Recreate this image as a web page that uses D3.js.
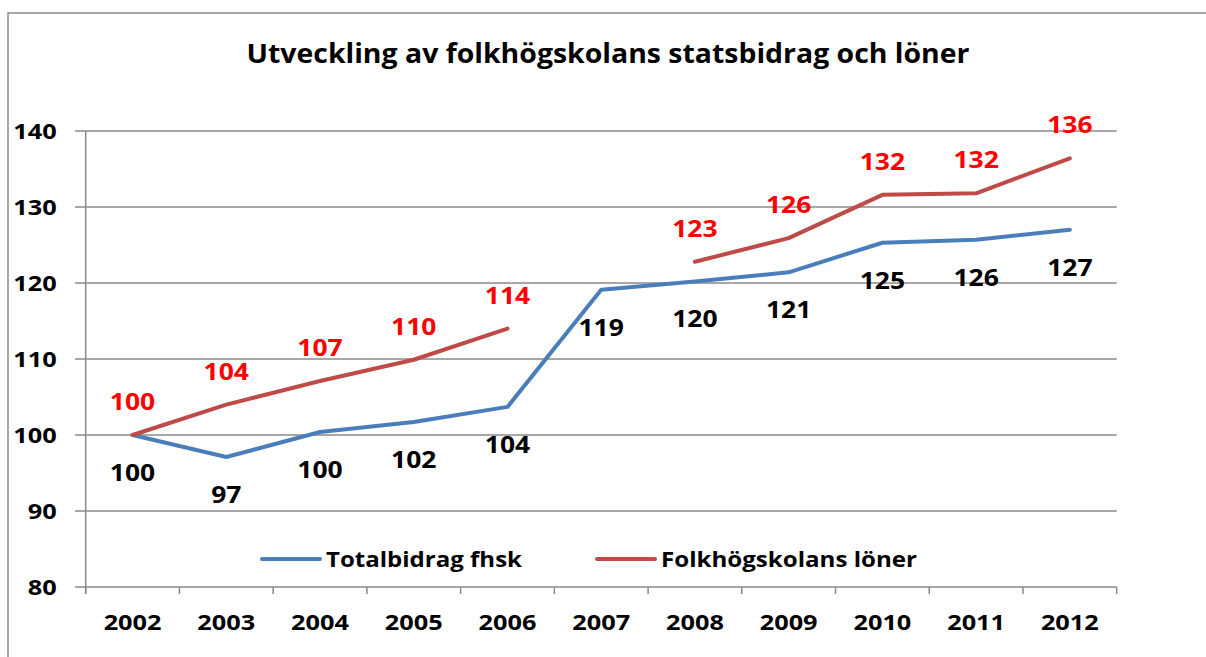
<!DOCTYPE html>
<html>
<head>
<meta charset="utf-8">
<script src="https://cdn.jsdelivr.net/npm/d3@7"></script>
<style>
  body { margin: 0; background: #fff; }
  svg { display: block; }
</style>
</head>
<body>
<script>
// years on the category axis
const years = ["2002","2003","2004","2005","2006","2007","2008","2009","2010","2011","2012"]

// Totalbidrag fhsk (index, 2002 = 100)
const totalbidrag = [100, 97.1, 100.4, 101.7, 103.7, 119.1, 120.2, 121.4, 125.3, 125.7, 127.0]
// Folkhögskolans löner (no value for 2007)
const loner = [100, 104.0, 107.1, 109.9, 114.0, null, 122.8, 125.9, 131.6, 131.8, 136.4]

const yTicks = [80, 90, 100, 110, 120, 130, 140]

const seriesNames = ["Totalbidrag fhsk", "Folkhögskolans löner"]

const width = 1206, height = 657
const grey = "#8a8a8a"
const blue = "#4a7ebb"
const red = "#be4b48"
const font = "'Open Sans', sans-serif"
const stretch = 1.15

const svg = d3.select("body").append("svg")
  .attr("width", width)
  .attr("height", height)

// outer chart border (runs off the right and bottom edge)
svg.append("rect")
  .attr("x", 8).attr("y", 13)
  .attr("width", 1250).attr("height", 700)
  .attr("fill", "#fff")
  .attr("stroke", grey)
  .attr("stroke-width", 1.5)

// stretch text horizontally like the pasted excel chart
function widen(sel, k) {
  sel.each(function() {
    const w = this.getComputedTextLength()
    d3.select(this).attr("textLength", w * k).attr("lengthAdjust", "spacingAndGlyphs")
  })
}
function fit(sel, w) {
  sel.attr("textLength", w).attr("lengthAdjust", "spacingAndGlyphs")
}

const x = d3.scaleBand().domain(years).range([85.7, 1116.7])
const y = d3.scaleLinear().domain([80, 140]).range([587, 131])
const cx = d => x(d) + x.bandwidth() / 2

// title
svg.append("text")
  .attr("x", 246.5).attr("y", 62.5)
  .style("font", `bold 26.5px ${font}`)
  .attr("fill", "#000")
  .text("Utveckling av folkhögskolans statsbidrag och löner")
  .call(fit, 723)

// gridlines
svg.append("g").attr("id", "grid")
  .selectAll("line")
  .data(yTicks)
  .enter().append("line")
    .attr("x1", 75).attr("x2", 1116.7)
    .attr("y1", d => y(d)).attr("y2", d => y(d))
    .attr("stroke", grey)
    .attr("stroke-width", 1.5)

// y axis
const yAxis = svg.append("g")
  .attr("transform", "translate(85.7,0)")
  .call(d3.axisLeft(y).tickValues(yTicks).tickSize(0).tickPadding(29).tickFormat(d3.format("d")))
yAxis.select(".domain")
  .attr("d", `M0,${y(140)}V594`)
  .attr("stroke", grey)
  .attr("stroke-width", 1.5)
yAxis.selectAll("text")
  .style("font", `bold 22px ${font}`)
  .attr("fill", "#000")
  .attr("dy", "0.36em")
  .call(widen, stretch)

// x axis
const xAxis = svg.append("g")
  .attr("transform", `translate(0,${y(80)})`)
  .call(d3.axisBottom(x).tickSize(0).tickPadding(35))
xAxis.select(".domain").remove()
xAxis.selectAll("text")
  .style("font", `bold 22px ${font}`)
  .attr("fill", "#000")
  .attr("dy", "0.36em")
  .call(widen, stretch)
xAxis.append("g").selectAll("line")
  .data(d3.range(years.length + 1))
  .enter().append("line")
    .attr("x1", i => 85.7 + i * x.step())
    .attr("x2", i => 85.7 + i * x.step())
    .attr("y1", 0).attr("y2", 7)
    .attr("stroke", grey)
    .attr("stroke-width", 1.5)

// lines
const line = d3.line()
  .defined(d => d[1] != null)
  .x(d => cx(d[0]))
  .y(d => y(d[1]))

svg.append("path")
  .datum(years.map((yr, i) => [yr, totalbidrag[i]]))
  .attr("fill", "none")
  .attr("stroke", blue)
  .attr("stroke-width", 4)
  .attr("stroke-linejoin", "round")
  .attr("stroke-linecap", "round")
  .attr("d", line)

svg.append("path")
  .datum(years.map((yr, i) => [yr, loner[i]]))
  .attr("fill", "none")
  .attr("stroke", red)
  .attr("stroke-width", 4)
  .attr("stroke-linejoin", "round")
  .attr("stroke-linecap", "round")
  .attr("d", line)

// data labels
svg.append("g").selectAll("text")
  .data(years.map((yr, i) => [yr, totalbidrag[i]]))
  .enter().append("text")
    .attr("x", d => cx(d[0]))
    .attr("y", d => y(d[1]) + 46)
    .attr("text-anchor", "middle")
    .attr("fill", "#000")
    .style("font", `bold 23px ${font}`)
    .text(d => Math.round(d[1]))
    .call(widen, stretch)

svg.append("g").selectAll("text")
  .data(years.map((yr, i) => [yr, loner[i]]).filter(d => d[1] != null))
  .enter().append("text")
    .attr("x", d => cx(d[0]))
    .attr("y", d => y(d[1]) - 25)
    .attr("text-anchor", "middle")
    .attr("fill", "#ff0000")
    .style("font", `bold 23px ${font}`)
    .text(d => Math.round(d[1]))
    .call(widen, stretch)

// legend
const legend = svg.append("g").attr("id", "legend")
const legendItems = [
  { name: seriesNames[0], color: blue, x: 262, w: 196 },
  { name: seriesNames[1], color: red, x: 597, w: 256 }
]
legendItems.forEach(d => {
  legend.append("line")
    .attr("x1", d.x).attr("x2", d.x + 58)
    .attr("y1", 559).attr("y2", 559)
    .attr("stroke", d.color)
    .attr("stroke-width", 4)
    .attr("stroke-linecap", "round")
  legend.append("text")
    .attr("x", d.x + 64).attr("y", 567)
    .style("font", `bold 22px ${font}`)
    .attr("fill", "#000")
    .text(d.name)
    .call(fit, d.w)
})
</script>
</body>
</html>
